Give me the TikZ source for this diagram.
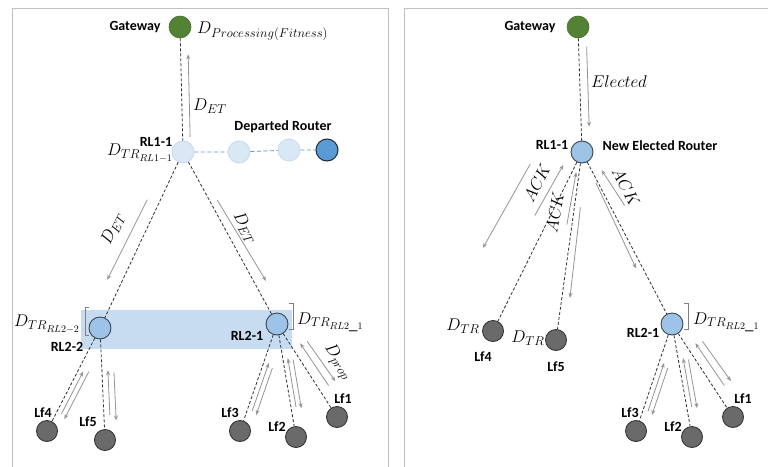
\RequirePackage{fix-cm}
\documentclass[tikz,border=0pt]{standalone}
\usepackage{fontspec}
\setmainfont{Carlito}
\usetikzlibrary{calc,arrows.meta}
\DeclareMathSizes{17}{17}{12.8}{10}
\definecolor{gwgreen}{HTML}{548235}
\definecolor{ghostfill}{HTML}{DAE7F5}
\definecolor{ghostdraw}{HTML}{C6DAF0}
\definecolor{depfill}{HTML}{5B9BD5}
\definecolor{depdraw}{HTML}{1F2A38}
\definecolor{rtfill}{HTML}{9DC3E6}
\definecolor{rtdraw}{HTML}{3A4654}
\definecolor{leaffill}{HTML}{6A6A6A}
\definecolor{leafdraw}{HTML}{363636}
\definecolor{rectfill}{HTML}{C8DCF1}
\definecolor{arrgray}{HTML}{959595}
\definecolor{panelgray}{HTML}{C0C0C0}
\definecolor{linkgray}{HTML}{303030}
\newcommand\sarr[6]{\draw[arr] ($(#1)!#3!(#2)!#4!90:(#2)$) -- ($(#1)!#5!(#2)!#6!90:(#2)$);}
\begin{document}
\begin{tikzpicture}[x=1pt,y=-1pt,
  lbl/.style={font=\bfseries\fontsize{14}{16}\selectfont, inner sep=0pt},
  mlbl/.style={font=\fontsize{17}{19}\selectfont, inner sep=0pt},
  gwnode/.style={circle, minimum size=22pt, inner sep=0pt, fill=gwgreen, draw=gwgreen!85!black, line width=0.6pt},
  ghost/.style={circle, minimum size=22pt, inner sep=0pt, fill=ghostfill, draw=ghostdraw, line width=0.8pt},
  depnode/.style={circle, minimum size=22pt, inner sep=0pt, fill=depfill, draw=depdraw, line width=1pt},
  router/.style={circle, minimum size=22pt, inner sep=0pt, fill=rtfill, draw=rtdraw, line width=0.9pt},
  leaf/.style={circle, minimum size=21pt, inner sep=0pt, fill=leaffill, draw=leafdraw, line width=0.9pt},
  link/.style={draw=linkgray, line width=0.8pt, dash pattern=on 3pt off 2pt},
  bluelink/.style={draw=depfill, line width=0.8pt, dash pattern=on 4pt off 2.5pt},
  arr/.style={draw=arrgray, line width=0.8pt, -{Stealth[length=5pt,width=4pt]}},
  brk/.style={draw=gray, line width=0.7pt},
  panel/.style={draw=panelgray, line width=1pt}]
\useasboundingbox (0,0) rectangle (768,466);
\fill[white] (0,0) rectangle (768,466);
% panels
\draw[panel] (12,8) rectangle (388,480);
\draw[panel] (404,8) rectangle (780,480);
% highlight band
\fill[rectfill] (81,310) rectangle (292,349);

% ---------- left panel nodes ----------
\node[gwnode] (gw1) at (180,27) {};
\node[ghost] (rl11) at (183,152) {};
\node[ghost] (g1) at (239,152) {};
\node[ghost] (g2) at (289,150) {};
\node[depnode] (dep) at (327,150) {};
\node[router] (rl22) at (100,328) {};
\node[router] (rl21) at (277,324) {};
\node[leaf] (lf4) at (47,431) {};
\node[leaf] (lf5) at (105,440) {};
\node[leaf] (lf3) at (240,431) {};
\node[leaf] (lf2) at (296,437) {};
\node[leaf] (lf1) at (337,417) {};

% links
\draw[link] (gw1) -- (rl11);
\draw[bluelink] (rl11) -- (g1) -- (g2) -- (dep);
\draw[link] (rl11) -- (rl22);
\draw[link] (rl11) -- (rl21);
\draw[link] (rl22) -- (lf4);
\draw[link] (rl22) -- (lf5);
\draw[link] (rl21) -- (lf3);
\draw[link] (rl21) -- (lf2);
\draw[link] (rl21) -- (lf1);

% arrows
\sarr{gw1}{rl11}{0.88}{7.5pt}{0.22}{7.5pt}
\sarr{rl11}{rl22}{0.30}{-12pt}{0.76}{-14pt}
\sarr{rl11}{rl21}{0.30}{7pt}{0.78}{11pt}
\sarr{rl22}{lf4}{0.81}{5pt}{0.40}{5pt}
\sarr{rl22}{lf4}{0.38}{10pt}{0.84}{10pt}
\sarr{rl22}{lf5}{0.78}{6pt}{0.38}{6pt}
\sarr{rl22}{lf5}{0.40}{12pt}{0.83}{12pt}
\sarr{rl21}{lf3}{0.80}{5pt}{0.35}{5pt}
\sarr{rl21}{lf3}{0.38}{10pt}{0.82}{10pt}
\sarr{rl21}{lf2}{0.74}{5pt}{0.31}{5pt}
\sarr{rl21}{lf2}{0.33}{10pt}{0.76}{10pt}
\sarr{rl21}{lf1}{0.72}{10pt}{0.26}{9pt}
\sarr{rl21}{lf1}{0.28}{16pt}{0.72}{18pt}

% brackets
\draw[brk] ($(rl22)+(-11,-21)$) -- ($(rl22)+(-15,-21)$) -- ($(rl22)+(-15,7)$) -- ($(rl22)+(-11,7)$);
\draw[brk] ($(rl21)+(12,-21)$) -- ($(rl21)+(16,-21)$) -- ($(rl21)+(16,5)$) -- ($(rl21)+(12,5)$);

% labels
\node[lbl] (tgw1) at (135,27) {Gateway};
\node[mlbl, anchor=west] (tproc) at (197,31) {$D_{Processing(Fitness)}$};
\node[mlbl, anchor=west] (tet0) at (193,106) {$D_{ET}$};
\node[lbl] (tdep) at (283,127) {Departed Router};
\node[lbl] (trl11) at (156,142) {RL1-1};
\node[mlbl, anchor=east] (tdtr11) at (173,153) {$D_{TR_{RL1-1}}$};
\node[mlbl, rotate=64.7] (tdet1) at (113,229) {$D_{ET}$};
\node[mlbl, rotate=-61] (tdet2) at (245,228) {$D_{ET}$};
\node[mlbl, anchor=east] (tdtr22) at (80,324) {$D_{TR_{RL2-2}}$};
\node[lbl] (trl22) at (67,347) {RL2-2};
\node[lbl] (trl21) at (247,336) {RL2-1};
\node[mlbl, anchor=west] (tdtr21) at (297,322) {$D_{TR_{RL2\_1}}$};
\node[mlbl, rotate=-57] (tprop) at (338,362) {$D_{prop}$};
\node[lbl] (tlf4) at (43,413) {Lf4};
\node[lbl] (tlf5) at (88,422) {Lf5};
\node[lbl] (tlf3) at (230,413) {Lf3};
\node[lbl] (tlf2) at (277,427) {Lf2};
\node[lbl] (tlf1) at (343,399) {Lf1};

% ---------- right panel nodes ----------
\node[gwnode] (gw2) at (578,27) {};
\node[router] (nrl) at (582,152) {};
\node[leaf] (rlf4) at (493,331) {};
\node[leaf] (rlf5) at (556,340) {};
\node[router] (rrl21) at (672,324) {};
\node[leaf] (rlf3) at (636,431) {};
\node[leaf] (rlf2) at (692,437) {};
\node[leaf] (rlf1) at (733,417) {};

\draw[link] (gw2) -- (nrl);
\draw[link] (nrl) -- (rlf4);
\draw[link] (nrl) -- (rlf5);
\draw[link] (nrl) -- (rrl21);
\draw[link] (rrl21) -- (rlf3);
\draw[link] (rrl21) -- (rlf2);
\draw[link] (rrl21) -- (rlf1);

\sarr{gw2}{nrl}{0.16}{8pt}{0.80}{8pt}
\sarr{nrl}{rlf4}{0.17}{-41pt}{0.65}{-46pt}
\sarr{nrl}{rlf4}{0.39}{-14pt}{0.10}{-11pt}
\sarr{nrl}{rlf5}{0.39}{-5pt}{0.11}{-3pt}
\sarr{nrl}{rlf5}{0.29}{6pt}{0.77}{8pt}
\sarr{nrl}{rrl21}{0.345}{13pt}{0.13}{9pt}
\sarr{nrl}{rrl21}{0.175}{-2pt}{0.66}{-6pt}
\sarr{rrl21}{rlf3}{0.80}{5pt}{0.35}{5pt}
\sarr{rrl21}{rlf3}{0.38}{10pt}{0.82}{10pt}
\sarr{rrl21}{rlf2}{0.74}{5pt}{0.31}{5pt}
\sarr{rrl21}{rlf2}{0.33}{10pt}{0.76}{10pt}
\sarr{rrl21}{rlf1}{0.72}{10pt}{0.26}{9pt}
\sarr{rrl21}{rlf1}{0.28}{16pt}{0.72}{18pt}

\draw[brk] ($(rrl21)+(12,-21)$) -- ($(rrl21)+(16,-21)$) -- ($(rrl21)+(16,5)$) -- ($(rrl21)+(12,5)$);

\node[lbl] (tgw2) at (530,27) {Gateway};
\node[mlbl] (tel) at (619,82) {$Elected$};
\node[lbl] (trl11b) at (552,145) {RL1-1};
\node[lbl] (tnew) at (660,146) {New Elected Router};
\node[mlbl, rotate=63] (ack1) at (537,183) {$ACK$};
\node[mlbl, rotate=80] (ack2) at (555,212) {$ACK$};
\node[mlbl, rotate=-62] (ack3) at (626,187) {$ACK$};
\node[mlbl] (tdtr4) at (463,326) {$D_{TR}$};
\node[lbl] (tlf4b) at (483,357) {Lf4};
\node[mlbl] (tdtr5) at (528,338) {$D_{TR}$};
\node[lbl] (tlf5b) at (556,367) {Lf5};
\node[lbl] (trl21b) at (643,333) {RL2-1};
\node[mlbl, anchor=west] (tdtr21b) at (693,322) {$D_{TR_{RL2\_1}}$};
\node[lbl] (tlf3b) at (630,413) {Lf3};
\node[lbl] (tlf2b) at (673,427) {Lf2};
\node[lbl] (tlf1b) at (743,399) {Lf1};
\end{tikzpicture}
\end{document}
